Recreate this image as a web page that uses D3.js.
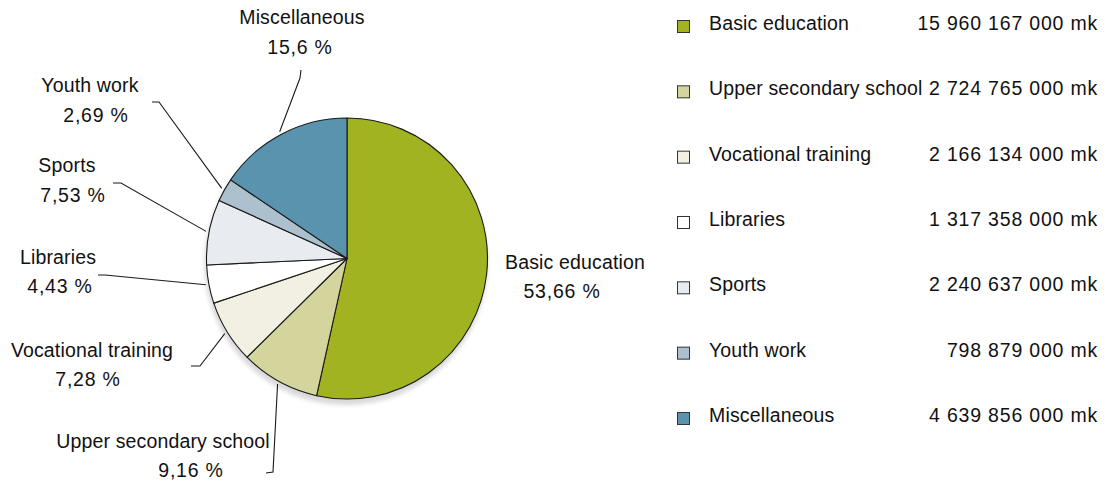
<!DOCTYPE html>
<html><head><meta charset="utf-8">
<script src="https://cdn.jsdelivr.net/npm/d3@7"></script>
<style>
html,body{margin:0;padding:0;background:#fff;}
text{font-family:"Liberation Sans",Arial,sans-serif;fill:#111;}
</style></head>
<body>
<svg id="chart" width="1109" height="483"></svg>
<script>
// ---- data ----
const categories = ["Basic education","Upper secondary school","Vocational training","Libraries","Sports","Youth work","Miscellaneous"];
const amounts = [15960167000, 2724765000, 2166134000, 1317358000, 2240637000, 798879000, 4639856000];
const amountLabels = ["15 960 167 000 mk","2 724 765 000 mk","2 166 134 000 mk","1 317 358 000 mk","2 240 637 000 mk","798 879 000 mk","4 639 856 000 mk"];
const percentLabels = ["53,66 %","9,16 %","7,28 %","4,43 %","7,53 %","2,69 %","15,6 %"];
const colors = ["#a2b321","#d4d59d","#f2f0e2","#ffffff","#e8ecf0","#adc0cd","#5a93ae"];

// ---- layout (not data) ----
const cx = 347, cy = 258.5, R = 140.5;
// [x of name, y of name baseline, x of percent, y of percent baseline]
const labelPos = [
  [575, 269, 562, 298],
  [163, 448, 191, 477],
  [92, 357, 88, 386],
  [58, 264, 60, 293],
  [67, 172, 73, 202],
  [90, 92, 96, 122],
  [302, 24, 300, 54]
];
const leaderPts = [
  null,
  [[266,473],[273,472]],
  [[191,366],[200,366]],
  [[98,275],[105,275]],
  [[113,183],[121,183]],
  [[152,102],[159,102]],
  [[301,70],[300,78]]
];

const svg = d3.select("#chart");
const defs = svg.append("defs");
const f = defs.append("filter").attr("id","blur").attr("x","-20%").attr("y","-20%").attr("width","140%").attr("height","140%");
f.append("feGaussianBlur").attr("stdDeviation",2.2);

const g = svg.append("g").attr("transform",`translate(${cx},${cy})`);
g.append("circle").attr("cx",-1).attr("cy",5).attr("r",R+1)
  .attr("fill","#d9d9d9").attr("filter","url(#blur)");

const pie = d3.pie().sort(null).value(d=>d)(amounts);
const arc = d3.arc().innerRadius(0).outerRadius(R);
g.selectAll("path.slice").data(pie).join("path")
  .attr("class","slice")
  .attr("d",arc)
  .attr("fill",(d,i)=>colors[i])
  .attr("stroke","#1a1a1a").attr("stroke-width",1.1).attr("stroke-linejoin","round");

const edge = d3.arc().innerRadius(R+3).outerRadius(R+3);
pie.forEach((d,i)=>{
  if(!leaderPts[i]) return;
  const c = edge.centroid(d);
  const pts = leaderPts[i].concat([[c[0]+cx,c[1]+cy]]);
  svg.append("path").attr("d",d3.line()(pts))
    .attr("fill","none").attr("stroke","#1a1a1a").attr("stroke-width",1.1);
});

const fs = 19.5, lsText = 0.15, lsNum = 0.8;
categories.forEach((name,i)=>{
  const p = labelPos[i];
  svg.append("text").attr("x",p[0]).attr("y",p[1]).attr("text-anchor","middle")
    .attr("font-size",fs).attr("letter-spacing",lsText).text(name);
  svg.append("text").attr("x",p[2]).attr("y",p[3]).attr("text-anchor","middle")
    .attr("font-size",fs).attr("letter-spacing",lsNum).text(percentLabels[i]);
});

const y = d3.scaleBand().domain(categories).range([0, 7*65.33]);
const leg = svg.append("g");
categories.forEach((name,i)=>{
  const by = y(name) + 30;
  leg.append("rect").attr("x",677.5).attr("y",by-9.5).attr("width",12).attr("height",12)
    .attr("fill",colors[i]).attr("stroke","#333").attr("stroke-width",1);
  leg.append("text").attr("x",709).attr("y",by).attr("font-size",fs).attr("letter-spacing",lsText).text(name);
  leg.append("text").attr("x",1098).attr("y",by).attr("text-anchor","end").attr("font-size",fs).attr("letter-spacing",lsNum).text(amountLabels[i]);
});
</script>
</body></html>
